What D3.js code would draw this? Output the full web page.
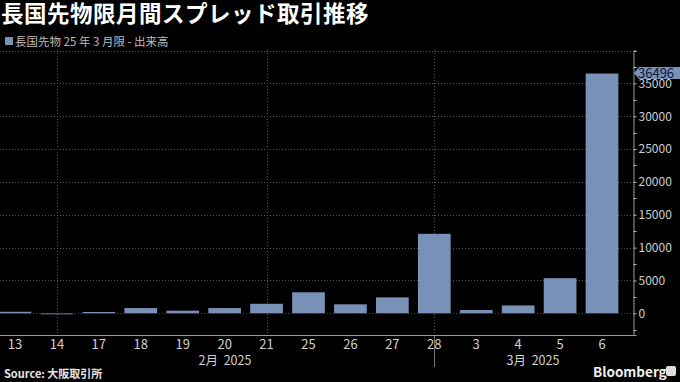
<!DOCTYPE html>
<html>
<head>
<meta charset="utf-8">
<script src="https://cdn.jsdelivr.net/npm/d3@7"></script>
<style>
  body { margin: 0; background: #000; }
  text { font-family: "Noto Sans CJK JP", "Noto Sans", sans-serif; }
</style>
</head>
<body>
<script>
// data
var days = ["13","14","17","18","19","20","21","25","26","27","28","3","4","5","6"];
var volumes = [240, -80, 200, 800, 400, 800, 1450, 3200, 1370, 2430, 12100, 500, 1200, 5350, 36496];
var gridDays = ["14","21","28"];
var yTicks = [0, 5000, 10000, 15000, 20000, 25000, 30000, 35000];
var months = [{label: "2月  2025", from: "13", to: "28"}, {label: "3月  2025", from: "3", to: "6"}];

var w = 680, h = 382;
var barColor = "#7a91b7";

var svg = d3.select("body").append("svg")
    .attr("width", w)
    .attr("height", h);

svg.append("rect").attr("width", w).attr("height", h).attr("fill", "#000");

// title and legend
svg.append("text")
    .attr("x", 1).attr("y", 22)
    .attr("fill", "#fff")
    .attr("font-size", 22.5)
    .attr("letter-spacing", 0.5)
    .attr("font-weight", "bold")
    .text("長国先物限月間スプレッド取引推移");

svg.append("rect").attr("x", 5).attr("y", 37).attr("width", 8).attr("height", 8).attr("fill", barColor);
svg.append("text")
    .attr("x", 15).attr("y", 45.5)
    .attr("fill", "#bdbdbd")
    .attr("font-size", 11.5)
    .attr("xml:space", "preserve")
    .text("長国先物 25 年 3 月限 - 出来高");

var x = d3.scaleBand()
    .domain(days)
    .range([-6, 623])
    .paddingInner(0.22)
    .paddingOuter(0.11);

var y = d3.scaleLinear()
    .domain([-3300, 40000])
    .range([335, 50.5]);

var axisX = 633;

// horizontal grid
svg.selectAll(".hgrid")
    .data(yTicks.concat([40000]))
    .enter().append("line")
    .attr("x1", 0).attr("x2", axisX)
    .attr("y1", function(d){ return Math.round(y(d)) + 0.5; })
    .attr("y2", function(d){ return Math.round(y(d)) + 0.5; })
    .attr("stroke", "#5a5a5a")
    .attr("stroke-width", 1)
    .attr("stroke-dasharray", "1,2");

// vertical week grid
svg.selectAll(".vgrid")
    .data(gridDays)
    .enter().append("line")
    .attr("x1", function(d){ return Math.round(x(d) + x.bandwidth()/2) + 0.5; })
    .attr("x2", function(d){ return Math.round(x(d) + x.bandwidth()/2) + 0.5; })
    .attr("y1", 50).attr("y2", 335)
    .attr("stroke", "#5a5a5a")
    .attr("stroke-dasharray", "1,2");

// bars
svg.selectAll(".bar")
    .data(volumes)
    .enter().append("rect")
    .attr("x", function(d, i){ return x(days[i]); })
    .attr("width", x.bandwidth())
    .attr("y", function(d){ return y(Math.max(d, 0)); })
    .attr("height", function(d){ return Math.max(1, Math.abs(y(d) - y(0))); })
    .attr("fill", barColor);

// zero line
svg.append("line")
    .attr("x1", 0).attr("x2", axisX)
    .attr("y1", Math.round(y(0)) + 0.5).attr("y2", Math.round(y(0)) + 0.5)
    .attr("stroke", "#444").attr("stroke-dasharray", "1,2");

// y axis on the right
var yAxis = d3.axisRight(y)
    .tickValues(yTicks)
    .tickSize(3)
    .tickPadding(2)
    .tickFormat(d3.format("d"));

var ya = svg.append("g")
    .attr("transform", "translate(" + (axisX + 0.5) + ",0)")
    .call(yAxis);
ya.select(".domain").attr("stroke", "#9a9a9a");
ya.selectAll(".tick line").attr("stroke", "#bbb");
ya.selectAll(".tick text").attr("fill", "#cfcfcf").attr("font-size", 12)
    .attr("font-family", "'Open Sans', sans-serif");

// minor ticks
var minor = d3.range(-2500, 40001, 2500).filter(function(v){ return v % 5000 !== 0; });
svg.selectAll(".minor")
    .data(minor.concat([40000]))
    .enter().append("line")
    .attr("x1", axisX + 0.5).attr("x2", axisX + 3.5)
    .attr("y1", function(d){ return Math.round(y(d)) + 0.5; })
    .attr("y2", function(d){ return Math.round(y(d)) + 0.5; })
    .attr("stroke", "#bbb");

// bottom axis line
svg.append("line")
    .attr("x1", 0).attr("x2", axisX + 1)
    .attr("y1", 335.5).attr("y2", 335.5)
    .attr("stroke", "#9a9a9a");

// x axis labels
var xAxis = d3.axisBottom(x).tickSize(0).tickPadding(4);
var xa = svg.append("g")
    .attr("transform", "translate(0,336)")
    .call(xAxis);
xa.select(".domain").remove();
xa.selectAll(".tick text").attr("fill", "#d0d0d0").attr("font-size", 13)
    .attr("font-family", "'Open Sans', sans-serif");

// month divider
var divX = Math.round(x("28") + x.bandwidth()/2) + 0.5;
svg.append("line")
    .attr("x1", divX).attr("x2", divX)
    .attr("y1", 336).attr("y2", 367)
    .attr("stroke", "#777");

svg.selectAll(".month")
    .data(months)
    .enter().append("text")
    .attr("x", function(d){
        if (d.from === "13") return 225;
        return 533;
    })
    .attr("y", 365)
    .attr("text-anchor", "middle")
    .attr("fill", "#d0d0d0")
    .attr("font-size", 12.5)
    .attr("xml:space", "preserve")
    .text(function(d){ return d.label; });

// last value label
var last = volumes[volumes.length - 1];
var ly = y(last) - 0.5;
svg.append("path")
    .attr("d", "M" + (axisX + 1) + "," + ly + " L" + (axisX + 6) + "," + (ly - 6) +
        " L680," + (ly - 6) + " L680," + (ly + 6) + " L" + (axisX + 6) + "," + (ly + 6) + " Z")
    .attr("fill", barColor);
svg.append("text")
    .attr("x", axisX + 5).attr("y", ly + 5)
    .attr("fill", "#0c1a33")
    .attr("font-size", 13)
    .attr("font-family", "'Open Sans', sans-serif")
    .text(d3.format("d")(last));

// source and logo
svg.append("text")
    .attr("x", 4).attr("y", 378)
    .attr("fill", "#e6e6e6")
    .attr("font-size", 11)
    .attr("font-weight", "bold")
    .text("Source: 大阪取引所");

svg.append("text")
    .attr("x", 593).attr("y", 377)
    .attr("fill", "#f0f0f0")
    .attr("font-size", 13.5)
    .attr("font-weight", "bold")
    .attr("font-family", "'Open Sans', sans-serif")
    .text("Bloomberg");
svg.append("rect").attr("x", 666).attr("y", 366).attr("width", 10).attr("height", 10)
    .attr("rx", 2).attr("fill", "#ddd");
</script>
</body>
</html>
